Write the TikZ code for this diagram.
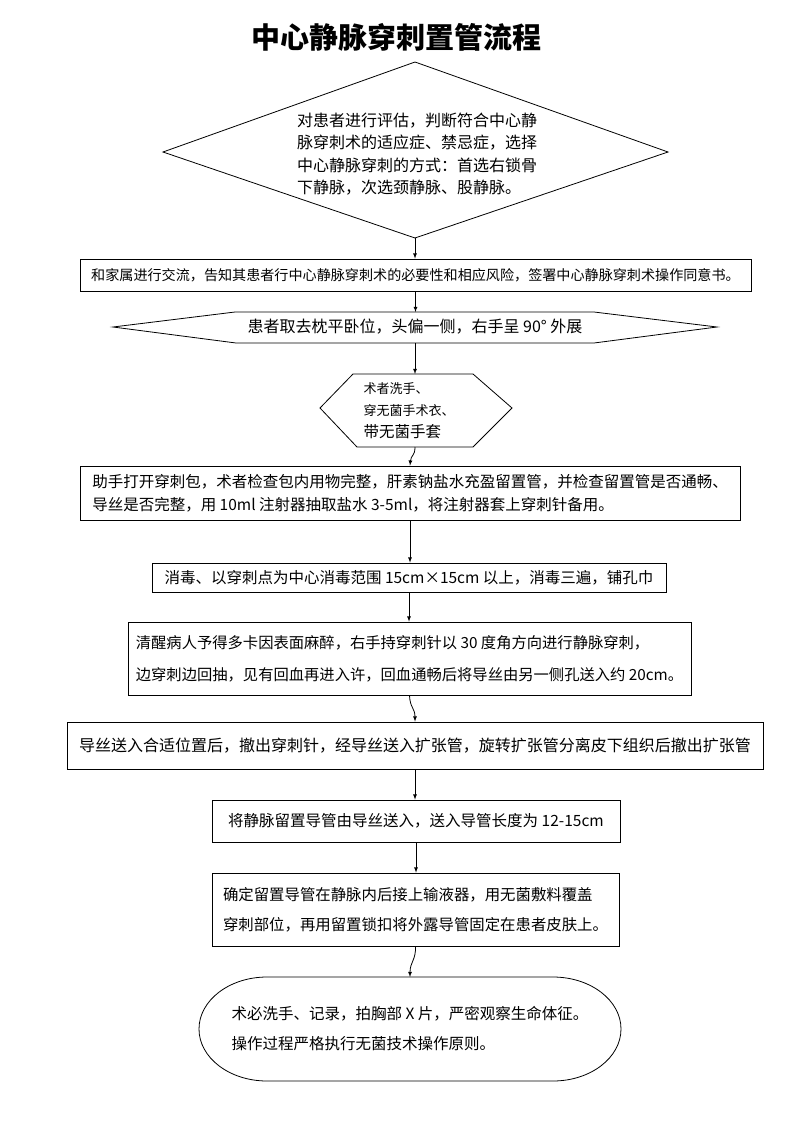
\documentclass[tikz,border=0pt]{standalone}
\usepackage{fontspec}
\setmainfont{Noto Sans CJK SC}
\usetikzlibrary{calc}

\tikzset{
	box/.style = {draw, inner sep=2pt, align=left, font=\fontsize{15.5}{22}\selectfont},
	txt/.style = {inner sep=0pt, align=left, font=\fontsize{15.5}{22}\selectfont},
}

\begin{document}
\begin{tikzpicture}[x=1pt, y=-1pt, line width=0.8pt, >=latex]
	\useasboundingbox (0,0) rectangle (793,1122);
	\node[font=\fontsize{29}{32}\selectfont\bfseries] (title) at (396,37) {中心静脉穿刺置管流程};

	% assessment diamond
	\coordinate (dT) at (415,62);
	\coordinate (dR) at (668,152);
	\coordinate (dB) at (415,238);
	\coordinate (dL) at (163,152);
	\draw (dT) -- (dR) -- (dB) -- (dL) -- cycle;
	\node[txt, font=\fontsize{16}{22.5}\selectfont] (assess) at (417,154)
		{对患者进行评估，判断符合中心静\\脉穿刺术的适应症、禁忌症，选择\\中心静脉穿刺的方式：首选右锁骨\\下静脉，次选颈静脉、股静脉。};

	\node[box, minimum width=671pt, minimum height=32pt, font=\fontsize{14.1}{18}\selectfont] (fam) at (415.5,275)
		{和家属进行交流，告知其患者行中心静脉穿刺术的必要性和相应风险，签署中心静脉穿刺术操作同意书。};

	% position hexagon
	\coordinate (hT) at (415,312);
	\coordinate (hB) at (415,343);
	\draw (113,327) -- (235,312) -- (594,312) -- (717,327) -- (594,343) -- (236,343) -- cycle;
	\node[txt, font=\fontsize{16}{20}\selectfont] (pos) at (415,327) {患者取去枕平卧位，头偏一侧，右手呈 90° 外展};

	% scrub hexagon
	\coordinate (shT) at (416,374);
	\coordinate (shB) at (415,447);
	\draw (320,408) -- (353,374) -- (473,374) -- (512,408) -- (473,447) -- (357,447) -- cycle;
	\node[txt, font=\fontsize{13}{22}\selectfont] (scrub) at (409,411)
		{术者洗手、\\穿无菌手术衣、\\{\fontsize{15.5}{22}\selectfont 带无菌手套}};

	\node[box, minimum width=660pt, minimum height=54pt, font=\fontsize{15.5}{23}\selectfont] (prep) at (410,493)
		{助手打开穿刺包，术者检查包内用物完整，肝素钠盐水充盈留置管，并检查留置管是否通畅、\\导丝是否完整，用 10ml 注射器抽取盐水 3-5ml，将注射器套上穿刺针备用。};
	\node[box, minimum width=514pt, minimum height=29pt] (disinf) at (409,577.5)
		{消毒、以穿刺点为中心消毒范围 15cm×15cm 以上，消毒三遍，铺孔巾};
	\node[box, minimum width=563pt, minimum height=73pt, font=\fontsize{15.3}{32}\selectfont] (punct) at (409.5,658.5)
		{清醒病人予得多卡因表面麻醉，右手持穿刺针以 30 度角方向进行静脉穿刺，\\边穿刺边回抽，见有回血再进入许，回血通畅后将导丝由另一侧孔送入约 20cm。};
	\node[box, minimum width=696pt, minimum height=47pt, font=\fontsize{16}{22}\selectfont] (wire) at (415,745.5)
		{导丝送入合适位置后，撤出穿刺针，经导丝送入扩张管，旋转扩张管分离皮下组织后撤出扩张管};
	\node[box, minimum width=408pt, minimum height=42pt] (cath) at (416,821)
		{将静脉留置导管由导丝送入，送入导管长度为 12-15cm};
	\node[box, minimum width=407pt, minimum height=73pt, font=\fontsize{15.4}{30}\selectfont] (fix) at (415.5,909.5)
		{确定留置导管在静脉内后接上输液器，用无菌敷料覆盖\\穿刺部位，再用留置锁扣将外露导管固定在患者皮肤上。};

	% closing stadium
	\coordinate (eT) at (410,977);
	\draw (267,977) -- (553,977) arc (-90:90:68 and 52) -- (267,1081) arc (90:270:68 and 52) -- cycle;
	\node[txt, font=\fontsize{15.5}{30}\selectfont] (close) at (410,1029)
		{术必洗手、记录，拍胸部 X 片，严密观察生命体征。\\操作过程严格执行无菌技术操作原则。};

	\foreach \a/\b in {dB/fam.north, fam.south/hT, hB/shT, prep.south/disinf.north,
		disinf.south/punct.north, wire.south/cath.north, cath.south/fix.north}{
		\draw[->] (\a) -- (\a |- \b);}
	\draw[->] (shB) .. controls (415,456) and (411,455) .. (prep.north);
	\draw[->] (punct.south) .. controls (410,708) and (415,708) .. (wire.north);
	\draw[->] (fix.south) .. controls (416,960) and (410,962) .. (eT);
\end{tikzpicture}
\end{document}
